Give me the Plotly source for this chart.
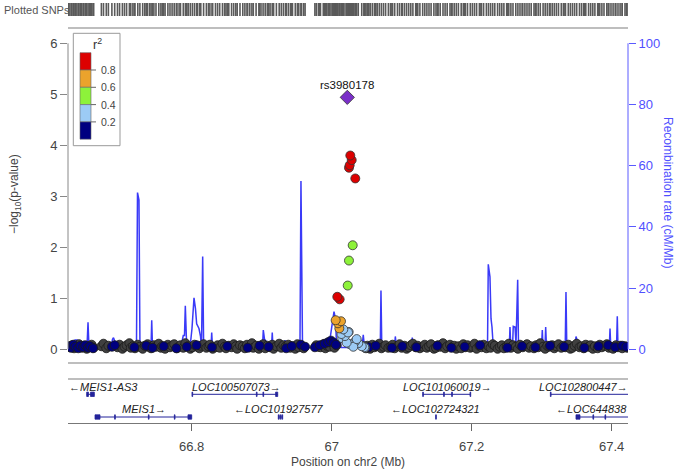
import plotly.graph_objects as go

# ---------------- data ----------------
x_range = [66.6233, 67.4233]
x_ticks = [66.8, 67.0, 67.2, 67.4]
x_ticktext = ["66.8", "67", "67.2", "67.4"]
logp_ticks = [0, 1, 2, 3, 4, 5, 6]
recomb_ticks = [0, 20, 40, 60, 80, 100]

recomb_pos = [66.6233, 66.6290, 66.6311, 66.6333, 66.6361, 66.6383, 66.6504, 66.6519, 66.6533,
              66.6847, 66.6869, 66.6883, 66.6904, 66.6926, 66.7211, 66.7226, 66.7247, 66.7261,
              66.7419, 66.7429, 66.7440, 66.7811, 66.7823, 66.7861, 66.7880, 66.7897, 66.7909, 66.7929,
              66.7976, 66.8004, 66.8033, 66.8054, 66.8071, 66.8104, 66.8126, 66.8140, 66.8157, 66.8171,
              66.8276, 66.8286, 66.8297, 66.9011, 66.9023, 66.9040, 66.9061, 66.9076,
              66.9140, 66.9151, 66.9161, 66.9304, 66.9333, 66.9361,
              66.9533, 66.9547, 66.9561, 66.9583, 66.9597,
              66.9904, 66.9933, 66.9976, 67.0033, 67.0054, 67.0071, 67.0104, 67.0119, 67.0133,
              67.0319, 67.0333, 67.0347, 67.0433, 67.0451, 67.0469, 67.0694, 67.0704, 67.0716,
              67.0897, 67.0909, 67.0926, 67.0940, 67.0954, 67.1140, 67.1151, 67.1161,
              67.2226, 67.2237, 67.2261, 67.2276, 67.2290, 67.2309,
              67.2537, 67.2547, 67.2559, 67.2583, 67.2594, 67.2619, 67.2633, 67.2657, 67.2669,
              67.2997, 67.3009, 67.3019, 67.3047, 67.3057, 67.3069, 67.3336, 67.3347, 67.3359,
              67.3480, 67.3490, 67.3514, 67.3526, 67.3966, 67.3976, 67.3987,
              67.4069, 67.4080, 67.4090, 67.4233]
recomb_rate = [0.6, 0.6, 2.5, 3.0, 3.0, 0.6, 0.6, 8.8, 0.6,
               0.6, 3.3, 3.8, 2.5, 0.6, 0.6, 51.2, 48.8, 0.6,
               0.6, 9.5, 0.6, 0.6, 2.5, 2.5, 4.5, 4.5, 14.2, 0.6,
               0.6, 6.7, 16.8, 13.3, 8.3, 6.8, 4.2, 0.6, 30.3, 0.6,
               0.6, 5.5, 0.6, 0.6, 6.3, 3.3, 2.8, 0.6,
               0.6, 5.5, 0.6, 0.6, 3.0, 0.6,
               0.6, 1.7, 55.0, 1.7, 0.6,
               0.6, 2.5, 3.3, 12.3, 10.0, 0.6, 0.6, 3.3, 0.6,
               0.6, 3.3, 0.6, 0.6, 4.7, 0.6, 0.6, 19.2, 0.6,
               0.6, 4.2, 0.6, 2.5, 0.6, 0.6, 3.8, 0.6,
               0.6, 27.8, 23.7, 10.0, 7.3, 0.6,
               0.6, 7.3, 0.6, 0.6, 7.5, 7.3, 1.7, 22.7, 0.6,
               0.6, 6.3, 0.6, 0.6, 7.3, 0.6, 0.6, 18.7, 0.6,
               0.6, 4.2, 2.5, 0.6, 0.6, 6.8, 0.6,
               0.6, 10.8, 0.6, 0.6]

gray_pos = [66.626, 66.629, 66.632, 66.636, 66.639, 66.643, 66.646, 66.650, 66.654, 66.657,
            66.660, 66.671, 66.674, 66.678, 66.681, 66.694, 66.697, 66.701, 66.704, 66.707,
            66.711, 66.713, 66.716, 66.719, 66.723, 66.726, 66.730, 66.733, 66.737, 66.740,
            66.742, 66.746, 66.749, 66.753, 66.756, 66.758, 66.762, 66.766, 66.769, 66.772,
            66.775, 66.779, 66.782, 66.784, 66.788, 66.791, 66.795, 66.798, 66.801, 66.804,
            66.808, 66.811, 66.813, 66.817, 66.821, 66.824, 66.826, 66.830, 66.834, 66.837,
            66.840, 66.844, 66.847, 66.849, 66.853, 66.857, 66.860, 66.863, 66.865, 66.869,
            66.873, 66.876, 66.879, 66.883, 66.886, 66.888, 66.892, 66.896, 66.899, 66.902,
            66.905, 66.908, 66.912, 66.915, 66.917, 66.921, 66.925, 66.928, 66.931, 66.934,
            66.938, 66.941, 66.944, 66.948, 66.951, 66.953, 66.957, 66.960, 66.978, 66.981,
            66.984, 66.988, 66.991, 66.993, 66.997, 67.001, 67.004, 67.007, 67.046, 67.049,
            67.051, 67.055, 67.058, 67.061, 67.065, 67.068, 67.071, 67.074, 67.077, 67.081,
            67.084, 67.087, 67.090, 67.094, 67.097, 67.100, 67.104, 67.107, 67.110, 67.113,
            67.116, 67.120, 67.123, 67.126, 67.130, 67.133, 67.136, 67.139, 67.142, 67.146,
            67.149, 67.152, 67.155, 67.159, 67.162, 67.165, 67.169, 67.172, 67.175, 67.178,
            67.181, 67.185, 67.188, 67.191, 67.194, 67.198, 67.201, 67.204, 67.207, 67.211,
            67.214, 67.217, 67.221, 67.224, 67.227, 67.230, 67.233, 67.237, 67.240, 67.243,
            67.246, 67.250, 67.253, 67.256, 67.259, 67.263, 67.266, 67.269, 67.273, 67.276,
            67.279, 67.282, 67.285, 67.289, 67.292, 67.295, 67.298, 67.302, 67.305, 67.308,
            67.311, 67.315, 67.318, 67.321, 67.324, 67.328, 67.331, 67.334, 67.338, 67.341,
            67.344, 67.347, 67.350, 67.354, 67.357, 67.360, 67.363, 67.367, 67.370, 67.373,
            67.376, 67.380, 67.383, 67.386, 67.389, 67.393, 67.396, 67.399, 67.402, 67.406,
            67.409, 67.412, 67.415, 67.419, 67.422]
gray_logp = [0.04, 0.08, 0.02, 0.06, 0.10, 0.03, 0.07, 0.01, 0.05, 0.09,
             0.03, 0.06, 0.11, 0.02, 0.07, 0.04, 0.09, 0.01, 0.05, 0.08,
             0.12, 0.03, 0.06, 0.02, 0.09, 0.05, 0.01, 0.07, 0.10, 0.04,
             0.02, 0.08, 0.05, 0.11, 0.03, 0.06, 0.01, 0.09, 0.04, 0.07,
             0.10, 0.02, 0.05, 0.08, 0.03, 0.12, 0.06, 0.01, 0.04, 0.09,
             0.05, 0.02, 0.07, 0.10, 0.03, 0.06, 0.09, 0.01, 0.04, 0.08,
             0.03, 0.11, 0.05, 0.02, 0.07, 0.04, 0.10, 0.06, 0.01, 0.08,
             0.06, 0.02, 0.09, 0.04, 0.12, 0.03, 0.07, 0.01, 0.05, 0.10,
             0.02, 0.07, 0.04, 0.09, 0.01, 0.06, 0.11, 0.03, 0.08, 0.05,
             0.09, 0.03, 0.06, 0.01, 0.10, 0.04, 0.07, 0.02, 0.08, 0.05,
             0.04, 0.10, 0.02, 0.07, 0.05, 0.12, 0.03, 0.08, 0.06, 0.02,
             0.07, 0.01, 0.09, 0.04, 0.06, 0.11, 0.02, 0.05, 0.08, 0.03,
             0.05, 0.09, 0.02, 0.06, 0.10, 0.03, 0.07, 0.01, 0.04, 0.08,
             0.11, 0.04, 0.07, 0.02, 0.05, 0.09, 0.03, 0.06, 0.10, 0.01,
             0.03, 0.08, 0.05, 0.12, 0.02, 0.06, 0.09, 0.04, 0.07, 0.01,
             0.06, 0.02, 0.10, 0.04, 0.08, 0.03, 0.05, 0.11, 0.01, 0.07,
             0.04, 0.09, 0.02, 0.06, 0.03, 0.10, 0.07, 0.01, 0.05, 0.08,
             0.02, 0.06, 0.11, 0.03, 0.08, 0.05, 0.01, 0.09, 0.04, 0.07,
             0.10, 0.03, 0.06, 0.02, 0.08, 0.04, 0.12, 0.05, 0.01, 0.07,
             0.05, 0.08, 0.02, 0.06, 0.10, 0.03, 0.07, 0.04, 0.09, 0.01,
             0.03, 0.07, 0.11, 0.04, 0.06, 0.02, 0.09, 0.05, 0.08, 0.01,
             0.06, 0.02, 0.09, 0.04, 0.07, 0.10, 0.03, 0.05, 0.01, 0.08,
             0.04, 0.07, 0.02, 0.06, 0.03]

navy_pos = [66.624, 66.628, 66.631, 66.634, 66.638, 66.641, 66.645, 66.648, 66.652, 66.655,
            66.659, 66.686, 66.690, 66.718, 66.735, 66.744, 66.760, 66.778, 66.793, 66.807,
            66.829, 66.851, 66.880, 66.897, 66.910, 66.935, 66.943, 66.956, 66.962, 66.976,
            66.983, 66.990, 66.995, 66.999, 67.003, 67.006, 67.053, 67.063, 67.086, 67.101,
            67.121, 67.151, 67.171, 67.190, 67.212, 67.251, 67.272, 67.291, 67.312, 67.332,
            67.361, 67.381, 67.395, 67.405, 67.415, 67.421]
navy_logp = [0.06, 0.03, 0.09, 0.05, 0.02, 0.07, 0.04, 0.08, 0.03, 0.06,
             0.02, 0.05, 0.08, 0.04, 0.07, 0.03, 0.06, 0.02, 0.05, 0.08,
             0.04, 0.06, 0.03, 0.07, 0.05, 0.02, 0.06, 0.09, 0.05, 0.04,
             0.08, 0.11, 0.14, 0.17, 0.13, 0.09, 0.04, 0.07, 0.03, 0.06,
             0.04, 0.07, 0.03, 0.05, 0.08, 0.03, 0.06, 0.04, 0.07, 0.05,
             0.03, 0.06, 0.08, 0.04, 0.07, 0.05]

ld_pos = [67.0266, 67.0286, 67.0257, 67.0247, 67.0337, 67.0080, 67.0114,
          67.0300, 67.0247, 67.0229,
          67.0057, 67.0133, 67.0090, 67.0109,
          67.0233, 67.0190, 67.0214, 67.0261, 67.0333, 67.0380, 67.0429, 67.0466,
          67.0476, 67.0357, 67.0309, 67.0166, 67.0243, 67.0150, 67.0140]
ld_logp = [3.80, 3.71, 3.61, 3.56, 3.35, 1.03, 0.98,
           2.04, 1.74, 1.25,
           0.57, 0.55, 0.51, 0.41,
           0.33, 0.26, 0.13, 0.10, 0.15, 0.12, 0.06, 0.04,
           0.03, 0.20, 0.05, 0.39, 0.34, 0.22, 0.30]
ld_r2 = [0.92, 0.90, 0.88, 0.86, 0.84, 0.83, 0.81,
         0.52, 0.48, 0.45,
         0.72, 0.68, 0.66, 0.63,
         0.35, 0.33, 0.30, 0.28, 0.27, 0.26, 0.25, 0.24,
         0.23, 0.31, 0.29, 0.36, 0.32, 0.27, 0.34]

lead_name = "rs3980178"
lead_pos = 67.0223
lead_logp = 4.94

r2_breaks = [0.2, 0.4, 0.6, 0.8]
r2_labels = ["0.2", "0.4", "0.6", "0.8"]
r2_colors = ["#000080", "#9CCBF5", "#8DF23A", "#EBA32C", "#DD0000"]  # low -> high

gene_names = ["MEIS1-AS3", "MEIS1", "LOC100507073", "LOC101927577",
              "LOC101060019", "LOC102724321", "LOC102800447", "LOC644838"]
gene_start = [66.6500, 66.6619, 66.8009, 66.9237, 67.1300, 67.1485, 67.3129, 67.3490]
gene_end = [66.6609, 66.8000, 66.9229, 66.9300, 67.1986, 67.1495, 67.4233, 67.4233]
gene_strand = ["-", "+", "+", "-", "+", "-", "+", "-"]
gene_row = [1, 2, 1, 2, 1, 2, 1, 2]
gene_label_x = [66.6736, 66.7319, 66.8633, 66.9254, 67.1650, 67.1479, 67.3604, 67.3707]
gene_exons = [
    [(66.6500, 66.6525), (66.6555, 66.6609)],
    [(66.6619, 66.6690), (66.6899, 66.6909), (66.7381, 66.7391), (66.7752, 66.7762), (66.7947, 66.8000)],
    [(66.8004, 66.8014), (66.8924, 66.8934), (66.9018, 66.9028), (66.9199, 66.9229)],
    [(66.9237, 66.9247), (66.9260, 66.9270), (66.9287, 66.9300)],
    [(67.1300, 67.1310), (67.1599, 67.1609), (67.1714, 67.1724), (67.1976, 67.1986)],
    [(67.1485, 67.1495)],
    [(67.3124, 67.3134)],
    [(67.3490, 67.3547), (67.3732, 67.3742), (67.3904, 67.3914)],
]

# ---------------- layout helpers ----------------
W, H = 676, 470
FONT = "Liberation Sans, Arial, sans-serif"


def px(xp):
    return xp / W


def py(yp):
    return 1 - yp / H


xdom = [px(68), px(628)]
main_ydom = [py(363), py(28)]
gene_ydom = [py(423), py(379)]
rug_ydom = [py(16), py(3)]
logp_range = [-0.2686, 6.30]
recomb_range = [v * 100 / 6 for v in logp_range]


def r2_color(r):
    idx = 0
    for b in r2_breaks:
        if r >= b:
            idx += 1
    return r2_colors[idx]


fig = go.Figure()

# recombination rate (base axis, drawn underneath)
fig.add_trace(go.Scatter(x=recomb_pos, y=recomb_rate, xaxis="x", yaxis="y", mode="lines",
                         line=dict(color="#3A3AF8", width=1.5), hoverinfo="skip"))

# SNPs
fig.add_trace(go.Scatter(x=gray_pos, y=gray_logp, xaxis="x", yaxis="y2", mode="markers",
                         marker=dict(size=9, color="#404040", line=dict(color="#1A1A1A", width=0.8))))
fig.add_trace(go.Scatter(x=navy_pos, y=navy_logp, xaxis="x", yaxis="y2", mode="markers",
                         marker=dict(size=9, color="#000080", line=dict(color="#1A1A1A", width=0.8))))
order = sorted(range(len(ld_pos)), key=lambda i: ld_r2[i])
fig.add_trace(go.Scatter(x=[ld_pos[i] for i in order], y=[ld_logp[i] for i in order],
                         xaxis="x", yaxis="y2", mode="markers",
                         marker=dict(size=9, color=[r2_color(ld_r2[i]) for i in order],
                                     line=dict(color="#333333", width=0.8))))
fig.add_trace(go.Scatter(x=[lead_pos], y=[lead_logp], xaxis="x", yaxis="y2", mode="markers",
                         marker=dict(size=11, symbol="diamond", color="#7A2FC8",
                                     line=dict(color="#333333", width=0.8))))

shapes = []
annotations = []

# plotted SNPs rug (one tick per SNP), positioned through the x3 axis
all_pos = sorted(gray_pos + navy_pos + ld_pos + [lead_pos])
for p in all_pos:
    shapes.append(dict(type="line", xref="x3", yref="paper", x0=p, x1=p,
                       y0=rug_ydom[0], y1=rug_ydom[1],
                       line=dict(color="#5A5A5A", width=1.6)))

# panel borders
for yy in (28, 363, 379):
    shapes.append(dict(type="line", xref="paper", yref="paper", x0=xdom[0], x1=xdom[1],
                       y0=py(yy), y1=py(yy), line=dict(color="#A8A8A8", width=1.5)))
# left and right axis lines
shapes.append(dict(type="line", xref="paper", yref="y2", x0=xdom[0], x1=xdom[0], y0=0, y1=6,
                   line=dict(color="#888888", width=1)))
shapes.append(dict(type="line", xref="paper", yref="y", x0=xdom[1], x1=xdom[1], y0=0, y1=100,
                   line=dict(color="#5A5AFF", width=1)))

# genes
row_line = {1: 15.3, 2: 38.0}
row_label = {1: 8.3, 2: 30.3}
GENE_COL = "#23239A"
for i, name in enumerate(gene_names):
    yl = row_line[gene_row[i]]
    shapes.append(dict(type="line", xref="x2", yref="y3", x0=gene_start[i], x1=min(gene_end[i], x_range[1]),
                       y0=yl, y1=yl, line=dict(color=GENE_COL, width=1)))
    for (es, ee) in gene_exons[i]:
        shapes.append(dict(type="rect", xref="x2", yref="y3", x0=es, x1=ee, y0=yl - 2.2, y1=yl + 2.2,
                           fillcolor=GENE_COL, line=dict(color=GENE_COL, width=0.8)))
    label = ("\u2190" + name) if gene_strand[i] == "-" else (name + "\u2192")
    annotations.append(dict(x=gene_label_x[i], y=row_label[gene_row[i]], xref="x2", yref="y3",
                            text="<i>" + label + "</i>", showarrow=False,
                            xanchor="center", yanchor="middle",
                            font=dict(family=FONT, size=11, color="#222222")))

# legend
lx0, lx1 = 80, 91
seg_top, seg_h = 52.7, 17.3
for k in range(5):
    c = r2_colors[4 - k]
    shapes.append(dict(type="rect", xref="paper", yref="paper", x0=px(lx0), x1=px(lx1),
                       y0=py(seg_top + seg_h * (k + 1)), y1=py(seg_top + seg_h * k),
                       fillcolor=c, line=dict(color="#666666", width=0.6)))
shapes.append(dict(type="rect", xref="paper", yref="paper", x0=px(73.3), x1=px(120),
                   y0=py(145.7), y1=py(33.3), line=dict(color="#999999", width=1)))
for k, lab in enumerate(reversed(r2_labels)):
    yy = seg_top + seg_h * (k + 1)
    shapes.append(dict(type="line", xref="paper", yref="paper", x0=px(lx1), x1=px(96),
                       y0=py(yy), y1=py(yy), line=dict(color="#666666", width=1)))
    annotations.append(dict(x=px(98.5), y=py(yy), xref="paper", yref="paper", text=lab,
                            xanchor="left", yanchor="middle", showarrow=False,
                            font=dict(family=FONT, size=10.5, color="#444444")))
annotations.append(dict(x=px(97), y=py(44), xref="paper", yref="paper", text="r<sup>2</sup>",
                        xanchor="center", yanchor="middle",
                        showarrow=False, font=dict(family=FONT, size=12.5, color="#333333")))

# texts
annotations.append(dict(x=lead_pos, y=lead_logp, xref="x", yref="y2", text=lead_name, yshift=12,
                        xanchor="center", yanchor="middle",
                        showarrow=False, font=dict(family=FONT, size=11.5, color="#111111")))
annotations.append(dict(x=px(2), y=py(9.5), xref="paper", yref="paper", text="Plotted SNPs",
                        xanchor="left", yanchor="middle",
                        showarrow=False, font=dict(family=FONT, size=11, color="#555555")))
annotations.append(dict(x=px(15), y=py(194), xref="paper", yref="paper",
                        text="\u2212log<sub>10</sub>(p-value)", textangle=-90,
                        xanchor="center", yanchor="middle",
                        showarrow=False, font=dict(family=FONT, size=12, color="#444444")))
annotations.append(dict(x=px(668), y=py(192), xref="paper", yref="paper",
                        text="Recombination rate (cM/Mb)", textangle=90,
                        xanchor="center", yanchor="middle",
                        showarrow=False, font=dict(family=FONT, size=12, color="#5050FF")))
annotations.append(dict(x=px(348), y=py(462), xref="paper", yref="paper",
                        text="Position on chr2 (Mb)",
                        xanchor="center", yanchor="middle",
                        showarrow=False, font=dict(family=FONT, size=12, color="#444444")))

fig.update_layout(
    width=W, height=H, margin=dict(l=0, r=0, t=0, b=0),
    paper_bgcolor="white", plot_bgcolor="rgba(0,0,0,0)", showlegend=False,
    font=dict(family=FONT),
    xaxis=dict(domain=xdom, range=x_range, visible=False, anchor="y"),
    yaxis=dict(domain=main_ydom, range=recomb_range, side="right", anchor="x",
               tickvals=recomb_ticks, ticks="outside", ticklen=7, tickcolor="#5A5AFF",
               tickfont=dict(family=FONT, size=13, color="#5050FF"),
               showgrid=False, zeroline=False, showline=False),
    yaxis2=dict(overlaying="y", side="left", anchor="x", range=logp_range,
                tickvals=logp_ticks, ticks="outside", ticklen=7, tickcolor="#888888",
                tickfont=dict(family=FONT, size=13, color="#444444"),
                showgrid=False, zeroline=False, showline=False),
    xaxis2=dict(domain=xdom, range=x_range, anchor="y3", tickvals=x_ticks, ticktext=x_ticktext,
                ticks="outside", ticklen=7, tickcolor="#666666", showline=True,
                linecolor="#777777", linewidth=1, showgrid=False, zeroline=False,
                ticklabelstandoff=4,
                tickfont=dict(family=FONT, size=13, color="#444444")),
    yaxis3=dict(domain=gene_ydom, range=[44, 0], visible=False, anchor="x2"),
    xaxis3=dict(domain=xdom, range=x_range, visible=False, anchor="y4"),
    yaxis4=dict(domain=rug_ydom, range=[0, 1], visible=False, anchor="x3"),
    shapes=shapes, annotations=annotations,
)

fig.write_html("out.html", config={"displayModeBar": False})
